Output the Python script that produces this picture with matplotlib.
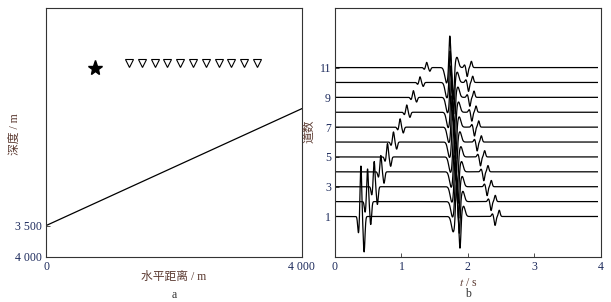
import numpy as np
import matplotlib.pyplot as plt

plt.rcParams['font.family'] = ['Liberation Serif', 'Noto Sans CJK SC']
plt.rcParams['axes.unicode_minus'] = False
plt.rcParams['mathtext.fontset'] = 'stix'

# panel a: model
src_x = [770]
src_z = [970]
rec_x = [1300, 1500, 1700, 1900, 2100, 2300, 2500, 2700, 2900, 3100, 3300]
rec_z = [880] * 11
refl_x = [0, 4000]
refl_z = [3500, 1620]

# panel b: traces (arrival times in s, amplitudes in trace units)
trace_no = list(range(1, 12))
t_direct = [0.39, 0.49, 0.59, 0.69, 0.79, 0.88, 0.98, 1.08, 1.18, 1.28, 1.38]
a_direct = [3.4, 2.2, 1.7, 1.1, 0.9, 0.68, 0.56, 0.49, 0.45, 0.38, 0.35]
t_refl = [1.855, 1.845, 1.835, 1.825, 1.815, 1.80, 1.79, 1.78, 1.77, 1.76, 1.755]
a_refl = [2.3] * 11
t_third = [2.44, 2.38, 2.32, 2.27, 2.22, 2.17, 2.13, 2.09, 2.06, 2.04, 2.02]
a_third = [0.6] * 11

# wavelet lobes: (offset s, relative amp, width s)
lobes_direct = [(-0.036, -0.33, 0.012), (0.0, 1.0, 0.012), (0.048, -0.7, 0.013)]
lobes_refl = [(-0.075, -0.45, 0.026), (-0.027, 1.0, 0.013), (0.027, -0.95, 0.013), (0.08, 0.3, 0.024)]
lobes_third = [(-0.07, 0.3, 0.013), (-0.03, -1.0, 0.013), (0.033, 0.7, 0.013)]


def wavelet(t, t0, amp, lobes):
    w = np.zeros_like(t)
    for dt, a, s in lobes:
        w += a * np.exp(-0.5 * ((t - t0 - dt) / s) ** 2)
    return amp * w


tick_c = '#1c2a5c'
lab_c = '#5c3b32'
edge_c = '#333333'

fig = plt.figure(figsize=(6.11, 3.02), dpi=100)
ax1 = fig.add_axes([46 / 611, 45.3 / 302, 255.7 / 611, 248.7 / 302])
ax2 = fig.add_axes([335 / 611, 45.3 / 302, 265.7 / 611, 248.7 / 302])

# --- a ---
ax1.plot(refl_x, refl_z, color='black', lw=0.9)
ax1.plot(src_x, src_z, marker='*', color='black', ms=11, ls='none')
ax1.plot(rec_x, rec_z, marker='v', mfc='white', mec='black', mew=0.8, ms=5.5, ls='none')
ax1.set_xlim(0, 4000)
ax1.set_ylim(4000, 0)
ax1.set_xticks([0, 4000])
ax1.set_xticklabels(['0', '4 000'])
ax1.set_yticks([3500, 4000])
ax1.set_yticklabels(['3 500', '4 000'])

# --- b ---
t = np.linspace(0, 3.95, 3951)
for k, td, ad, tr, ar, t3, a3 in zip(trace_no, t_direct, a_direct, t_refl, a_refl, t_third, a_third):
    y = k + wavelet(t, td, ad, lobes_direct) + wavelet(t, tr, ar, lobes_refl) + wavelet(t, t3, a3, lobes_third)
    ax2.plot(t, y, color='black', lw=0.9)
ax2.set_xlim(0, 4)
ax2.set_ylim(-1.7, 15)
ax2.set_xticks([0, 1, 2, 3, 4])
ax2.set_yticks([1, 3, 5, 7, 9, 11])

for ax in (ax1, ax2):
    for sp in ax.spines.values():
        sp.set_color(edge_c)
        sp.set_linewidth(0.8)
    ax.tick_params(direction='in', length=3, width=0.6, color=edge_c, labelsize=8.5,
                   labelcolor=tick_c, pad=3)

fig.text(174 / 611, 1 - 277 / 302, '水平距离 / m', ha='center', va='center', fontsize=8.5, color=lab_c)
fig.text(174 / 611, 1 - 295 / 302, 'a', ha='center', va='center', fontsize=8.5, color=edge_c)
fig.text(15 / 611, 1 - 134 / 302, '深度 / m', ha='center', va='center', fontsize=8.5, color=lab_c, rotation=90)
fig.text(468 / 611, 1 - 283 / 302, r'$t$ / s', ha='center', va='center', fontsize=8.5, color=lab_c)
fig.text(468 / 611, 1 - 294 / 302, 'b', ha='center', va='center', fontsize=8.5, color=edge_c)
fig.text(309 / 611, 1 - 131 / 302, '道数', ha='center', va='center', fontsize=8.5, color=lab_c, rotation=90)

fig.savefig('out.png', dpi=100)
